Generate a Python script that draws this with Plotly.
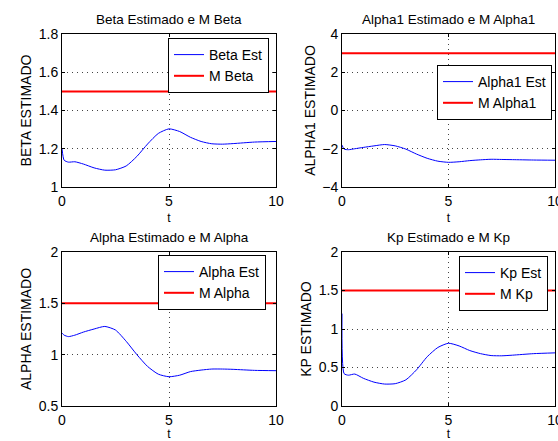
import plotly.graph_objects as go

t = [0, 0.1, 0.3, 0.6, 1.0, 1.5, 2.0, 2.5, 3.0, 3.5, 4.0, 4.5, 5.0, 5.5, 6.0, 6.5, 7.0, 7.5, 8.0, 9.0, 10.0]

beta_est = [1.20, 1.14, 1.13, 1.132, 1.12, 1.10, 1.088, 1.09, 1.11, 1.16, 1.225, 1.28, 1.304, 1.29, 1.26, 1.238,
            1.226, 1.224, 1.227, 1.235, 1.238]
alpha1_est = [-1.81, -2.02, -2.05, -2.0, -1.93, -1.85, -1.78, -1.85, -2.02, -2.28, -2.50, -2.65, -2.71, -2.68,
              -2.62, -2.58, -2.55, -2.56, -2.57, -2.59, -2.60]
alpha_est = [1.21, 1.19, 1.176, 1.19, 1.22, 1.25, 1.275, 1.24, 1.13, 1.0, 0.885, 0.81, 0.785, 0.80, 0.835, 0.85,
             0.86, 0.86, 0.857, 0.847, 0.844]
kp_est = [1.20, 0.42, 0.40, 0.415, 0.36, 0.31, 0.285, 0.29, 0.34, 0.47, 0.64, 0.76, 0.815, 0.78, 0.72, 0.68,
          0.655, 0.652, 0.66, 0.68, 0.69]

m_beta = 1.5
m_alpha1 = 3.0
m_alpha = 1.5
m_kp = 1.5

t_range = [0, 10]

panels = [
    dict(title="Beta Estimado e M Beta", ylabel="BETA ESTIMADO", est=beta_est, m=m_beta,
         names=("Beta Est", "M Beta"), yr=[1, 1.8], yt=[1, 1.2, 1.4, 1.6, 1.8], ytxt=["1", "1.2", "1.4", "1.6", "1.8"],
         xd=[62/558, 276/558], yd=[1-187/441, 1-34/441], leg=(269/558, 1-38/441)),
    dict(title="Alpha1 Estimado e M Alpha1", ylabel="ALPHA1 ESTIMADO", est=alpha1_est, m=m_alpha1,
         names=("Alpha1 Est", "M Alpha1"), yr=[-4, 4], yt=[-4, -2, 0, 2, 4], ytxt=["\u22124", "\u22122", "0", "2", "4"],
         xd=[342/558, 555/558], yd=[1-187/441, 1-34/441], leg=(552/558, 1-65/441)),
    dict(title="Alpha Estimado e M Alpha", ylabel="ALPHA ESTIMADO", est=alpha_est, m=m_alpha,
         names=("Alpha Est", "M Alpha"), yr=[0.5, 2], yt=[0.5, 1, 1.5, 2], ytxt=["0.5", "1", "1.5", "2"],
         xd=[62/558, 276/558], yd=[1-406/441, 1-252/441], leg=(266/558, 1-255/441)),
    dict(title="Kp Estimado e M Kp", ylabel="KP ESTIMADO", est=kp_est, m=m_kp,
         names=("Kp Est", "M Kp"), yr=[0, 2], yt=[0, 0.5, 1, 1.5, 2], ytxt=["0", "0.5", "1", "1.5", "2"],
         xd=[342/558, 555/558], yd=[1-406/441, 1-252/441], leg=(548/558, 1-256/441)),
]

fig = go.Figure()
font = dict(family="Liberation Sans, Arial, sans-serif", size=13, color="black")
layout = dict(width=558, height=441, margin=dict(l=0, r=0, t=0, b=0, autoexpand=False),
              paper_bgcolor="white", plot_bgcolor="white", font=font, showlegend=True, annotations=[])

for i, p in enumerate(panels):
    k = "" if i == 0 else str(i + 1)
    legname = "legend" if i == 0 else f"legend{i+1}"
    fig.add_trace(go.Scatter(x=t, y=p["est"], mode="lines", line=dict(color="blue", width=1, shape="spline", smoothing=0.6),
                             name=p["names"][0], xaxis="x" + k, yaxis="y" + k, legend=legname))
    fig.add_trace(go.Scatter(x=t_range, y=[p["m"], p["m"]], mode="lines", line=dict(color="red", width=2),
                             name=p["names"][1], xaxis="x" + k, yaxis="y" + k, legend=legname))
    axcommon = dict(showline=True, linecolor="black", linewidth=1, mirror="ticks", ticks="inside", ticklen=3,
                    tickcolor="black", automargin=False, ticklabeloverflow="allow",
                    showgrid=True, gridcolor="#444", gridwidth=1, griddash="1px,4px", zeroline=False,
                    tickfont=dict(size=14))
    layout["xaxis" + k] = dict(axcommon, domain=p["xd"], range=t_range, tickvals=[0, 5, 10], ticktext=["0", "5", "10"],
                               anchor="y" + k, ticklabelstandoff=1,
                               title=dict(text="t", font=dict(size=12), standoff=5))
    layout["yaxis" + k] = dict(axcommon, domain=p["yd"], range=p["yr"], tickvals=p["yt"], ticktext=p["ytxt"],
                               anchor="x" + k, title=dict(text=p["ylabel"], font=dict(size=14), standoff=3))
    layout[legname] = dict(x=p["leg"][0], y=p["leg"][1], xanchor="right", yanchor="top",
                           bgcolor="white", bordercolor="black", borderwidth=1, font=dict(size=14),
                           tracegroupgap=0, itemwidth=30)
    cx = (p["xd"][0] + p["xd"][1]) / 2
    layout["annotations"].append(dict(text=p["title"], x=cx, y=p["yd"][1], xref="paper", yref="paper",
                                      xanchor="center", yanchor="bottom", yshift=5, showarrow=False,
                                      font=dict(size=13.5)))

fig.update_layout(**layout)
fig.write_html("out.html")
